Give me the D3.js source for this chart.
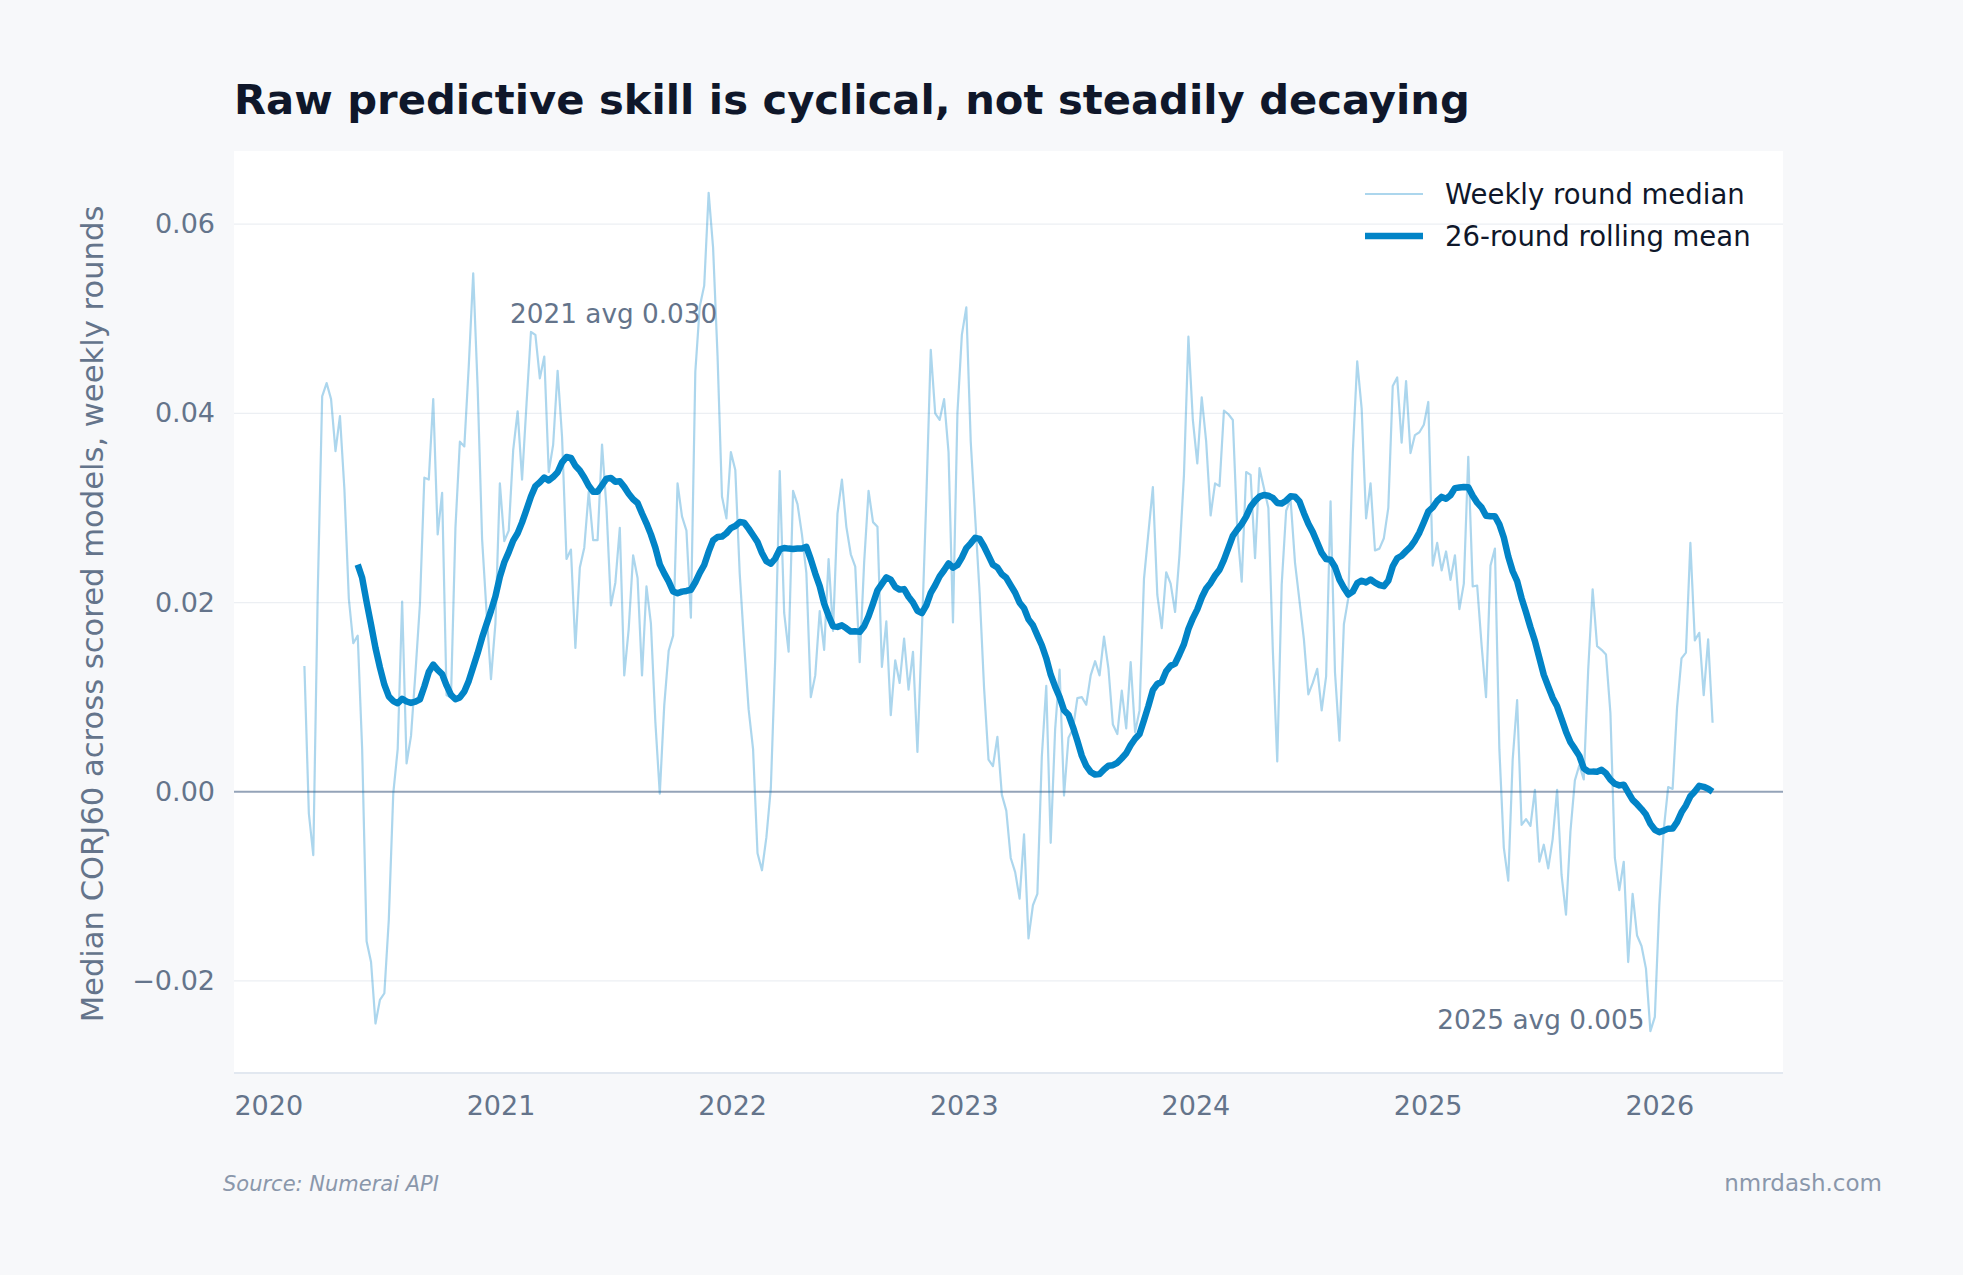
<!DOCTYPE html>
<html>
<head>
<meta charset="utf-8">
<script src="https://cdn.jsdelivr.net/npm/d3@7"></script>
<style>
body { margin: 0; background: #f7f8fa; }
text { font-family: "DejaVu Sans", sans-serif; }
</style>
</head>
<body>
<script>
const width = 1963;
const height = 1275;
const plot = {left: 234, right: 1783, top: 151, bottom: 1073};

// weekly rounds, first round date, one value per week
const firstRound = "2020-02-27";
const weeklyMedian = [
    0.0133, -0.0023, -0.0067, 0.021, 0.0418, 0.0432, 0.0415, 0.036, 0.0397, 0.032,
    0.0204, 0.0157, 0.0165, 0.0045, -0.0158, -0.018, -0.0245, -0.022, -0.0213, -0.0135,
    -0.0002, 0.0045, 0.0201, 0.003, 0.0059, 0.0126, 0.0198, 0.0332, 0.033, 0.0415,
    0.0272, 0.0316, 0.0102, 0.0100, 0.0279, 0.037, 0.0365, 0.045, 0.0548, 0.0427,
    0.0267, 0.019, 0.0119, 0.0178, 0.0326, 0.0265, 0.0276, 0.0361, 0.0402, 0.033,
    0.041, 0.0486, 0.0483, 0.0437, 0.046, 0.0338, 0.0367, 0.0445, 0.0375, 0.0246,
    0.0256, 0.0152, 0.0237, 0.0258, 0.0317, 0.0266, 0.0266, 0.0367, 0.030, 0.0197,
    0.0221, 0.0279, 0.0123, 0.0172, 0.025, 0.0226, 0.0123, 0.0217, 0.0178, 0.0074,
    -0.0002, 0.0091, 0.0149, 0.0165, 0.0326, 0.0291, 0.0276, 0.0184, 0.0444, 0.0513,
    0.0535, 0.0633, 0.0575, 0.0461, 0.0312, 0.0289, 0.0359, 0.034, 0.023, 0.0155,
    0.0087, 0.0045, -0.0065, -0.0083, -0.0048, 0.0004, 0.0143, 0.0339, 0.0189, 0.0148,
    0.0318, 0.0304, 0.0272, 0.0231, 0.0100, 0.0123, 0.0191, 0.0150, 0.0246, 0.0170,
    0.0294, 0.0330, 0.0280, 0.0251, 0.0238, 0.0137, 0.0242, 0.0318, 0.0285, 0.0280,
    0.0132, 0.0180, 0.0081, 0.0139, 0.0115, 0.0162, 0.0108, 0.0148, 0.0042, 0.017,
    0.031, 0.0467, 0.0400, 0.0393, 0.0415, 0.0359, 0.0179, 0.0400, 0.0483, 0.0512,
    0.037, 0.029, 0.021, 0.011, 0.0034, 0.0027, 0.0058, -0.0003, -0.002, -0.007,
    -0.0085, -0.0113, -0.0045, -0.0155, -0.012, -0.0108, 0.0037, 0.0112, -0.0054, 0.0066,
    0.0129, -0.0004, 0.0057, 0.0066, 0.0099, 0.0100, 0.0092, 0.0123, 0.0138, 0.0123,
    0.0164, 0.013, 0.0071, 0.0061, 0.0107, 0.0067, 0.0137, 0.0063, 0.0086, 0.0225,
    0.0274, 0.0322, 0.0208, 0.0173, 0.0232, 0.022, 0.019, 0.0251, 0.0335, 0.0481,
    0.0393, 0.0347, 0.0417, 0.037, 0.0292, 0.0326, 0.0323, 0.0403, 0.0399, 0.0393,
    0.0277, 0.0222, 0.0338, 0.0335, 0.0247, 0.0342, 0.0321, 0.030, 0.015, 0.0032,
    0.0219, 0.0297, 0.0309, 0.0242, 0.0202, 0.0161, 0.0103, 0.0115, 0.013, 0.0086,
    0.0122, 0.0307, 0.0126, 0.0054, 0.0177, 0.0205, 0.0358, 0.0455, 0.0405, 0.0289,
    0.0326, 0.0255, 0.0257, 0.0268, 0.030, 0.0429, 0.0438, 0.0369, 0.0434, 0.0358,
    0.0377, 0.038, 0.0388, 0.0412, 0.0239, 0.0263, 0.0234, 0.0254, 0.0224, 0.025,
    0.0193, 0.022, 0.0354, 0.0217, 0.0218, 0.0155, 0.010, 0.0239, 0.0257, 0.0045,
    -0.0059, -0.0094, 0.0034, 0.0097, -0.0035, -0.0029, -0.0036, 0.0002, -0.0074, -0.0056,
    -0.0081, -0.005, 0.0002, -0.0088, -0.013, -0.0042, 0.0012, 0.0028, 0.0013, 0.0129,
    0.0214, 0.0154, 0.015, 0.0145, 0.0083, -0.007, -0.0104, -0.0074, -0.018, -0.0108,
    -0.0152, -0.0163, -0.0187, -0.0253, -0.0238, -0.012, -0.004, 0.0005, 0.0003, 0.0089,
    0.0141, 0.0147, 0.0263, 0.016, 0.0168, 0.0102, 0.0161, 0.0073
];
const rollWindow = 26;
const rollMinPeriods = 13;

const yTicks = [-0.02, 0, 0.02, 0.04, 0.06];
const yearTicks = [2020, 2021, 2022, 2023, 2024, 2025, 2026];
const legendLabels = ["Weekly round median", "26-round rolling mean"];
const annotations = [
    {date: "2021-01-16", value: 0.0505, text: "2021 avg 0.030"},
    {date: "2025-01-16", value: -0.0241, text: "2025 avg 0.005"}
];

const start = d3.isoParse(firstRound + "T00:00:00");
const weekly = weeklyMedian.map((v, i) => ({date: d3.timeDay.offset(start, 7 * i), value: v}));
const rolling = weekly.map((d, i) => {
    const slice = weeklyMedian.slice(Math.max(0, i - rollWindow + 1), i + 1);
    return {date: d.date, value: slice.length >= rollMinPeriods ? d3.mean(slice) : null};
}).filter(d => d.value !== null);

// 5% margins around the data, like matplotlib
const [t0, t1] = d3.extent(weekly, d => d.date);
const tPad = (t1 - t0) * 0.05;
const [v0, v1] = d3.extent(weeklyMedian);
const vPad = (v1 - v0) * 0.05;

const x = d3.scaleTime()
    .domain([new Date(+t0 - tPad), new Date(+t1 + tPad)])
    .range([plot.left, plot.right]);
const y = d3.scaleLinear()
    .domain([v0 - vPad, v1 + vPad])
    .range([plot.bottom, plot.top]);

const svg = d3.select('body')
    .append('svg')
    .attr('width', width)
    .attr('height', height);
svg.append('rect')
    .attr('width', width)
    .attr('height', height)
    .attr('fill', '#f7f8fa');

svg.append('text')
    .attr('x', plot.left)
    .attr('y', 114)
    .attr('font-size', 41.7)
    .attr('font-weight', 'bold')
    .attr('fill', '#0f172a')
    .text('Raw predictive skill is cyclical, not steadily decaying');

svg.append('rect')
    .attr('x', plot.left)
    .attr('y', plot.top)
    .attr('width', plot.right - plot.left)
    .attr('height', plot.bottom - plot.top)
    .attr('fill', 'white');

// grid
svg.append('g').selectAll('line')
    .data(yTicks.filter(d => d !== 0))
    .enter().append('line')
    .attr('x1', plot.left)
    .attr('x2', plot.right)
    .attr('y1', d => y(d))
    .attr('y2', d => y(d))
    .attr('stroke', '#eceff3')
    .attr('stroke-width', 1.3);

svg.append('line')
    .attr('x1', plot.left)
    .attr('x2', plot.right)
    .attr('y1', plot.bottom)
    .attr('y2', plot.bottom)
    .attr('stroke', '#e2e8f0')
    .attr('stroke-width', 2);

// axes
const yAxis = svg.append('g')
    .attr('transform', `translate(${plot.left},0)`)
    .call(d3.axisLeft(y).tickValues(yTicks).tickFormat(d3.format('.2f')).tickSize(0).tickPadding(19));
const xAxis = svg.append('g')
    .attr('transform', `translate(0,${plot.bottom})`)
    .call(d3.axisBottom(x)
        .tickValues(yearTicks.map(yr => new Date(yr, 0, 1)))
        .tickFormat(d3.timeFormat('%Y'))
        .tickSize(0).tickPadding(23));
[yAxis, xAxis].forEach(g => {
    g.select('.domain').remove();
    g.selectAll('text')
        .attr('font-family', '"DejaVu Sans", sans-serif')
        .attr('font-size', 27)
        .attr('fill', '#64748b');
});

svg.append('line')
    .attr('x1', plot.left)
    .attr('x2', plot.right)
    .attr('y1', y(0))
    .attr('y2', y(0))
    .attr('stroke', '#94a3b8')
    .attr('stroke-width', 1.8);

svg.append('text')
    .attr('transform', `translate(103,${(plot.top + plot.bottom) / 2 + 2}) rotate(-90)`)
    .attr('text-anchor', 'middle')
    .attr('font-size', 30.6)
    .attr('fill', '#64748b')
    .text('Median CORJ60 across scored models, weekly rounds');

const line = d3.line()
    .x(d => x(d.date))
    .y(d => y(d.value));

svg.append('path')
    .datum(weekly)
    .attr('d', line)
    .attr('fill', 'none')
    .attr('stroke', '#0284c7')
    .attr('stroke-opacity', 0.33)
    .attr('stroke-width', 2.2)
    .attr('stroke-linejoin', 'round');

svg.append('path')
    .datum(rolling)
    .attr('d', line)
    .attr('fill', 'none')
    .attr('stroke', '#0284c7')
    .attr('stroke-width', 6.5)
    .attr('stroke-linejoin', 'round');

svg.append('g').selectAll('text')
    .data(annotations)
    .enter().append('text')
    .attr('x', d => x(d3.isoParse(d.date + "T00:00:00")))
    .attr('y', d => y(d.value))
    .attr('dominant-baseline', 'central')
    .attr('font-size', 26.3)
    .attr('fill', '#64748b')
    .text(d => d.text);

// legend
const legend = svg.append('g');
const legendRows = legend.selectAll('g')
    .data(legendLabels)
    .enter().append('g')
    .attr('transform', (d, i) => `translate(1365,${194 + i * 42})`);
legendRows.append('line')
    .attr('x1', 0)
    .attr('x2', 58)
    .attr('stroke', '#0284c7')
    .attr('stroke-opacity', (d, i) => i === 0 ? 0.33 : 1)
    .attr('stroke-width', (d, i) => i === 0 ? 2.2 : 6.5);
legendRows.append('text')
    .attr('x', 80)
    .attr('dominant-baseline', 'central')
    .attr('font-size', 27.5)
    .attr('fill', '#0f172a')
    .text(d => d);

// footer
svg.append('text')
    .attr('x', 223)
    .attr('y', 1191)
    .attr('font-size', 21)
    .attr('font-style', 'italic')
    .attr('fill', '#8a97ab')
    .text('Source: Numerai API');
svg.append('text')
    .attr('x', 1882)
    .attr('y', 1191)
    .attr('text-anchor', 'end')
    .attr('font-size', 23)
    .attr('fill', '#8a97ab')
    .text('nmrdash.com');
</script>
</body>
</html>
